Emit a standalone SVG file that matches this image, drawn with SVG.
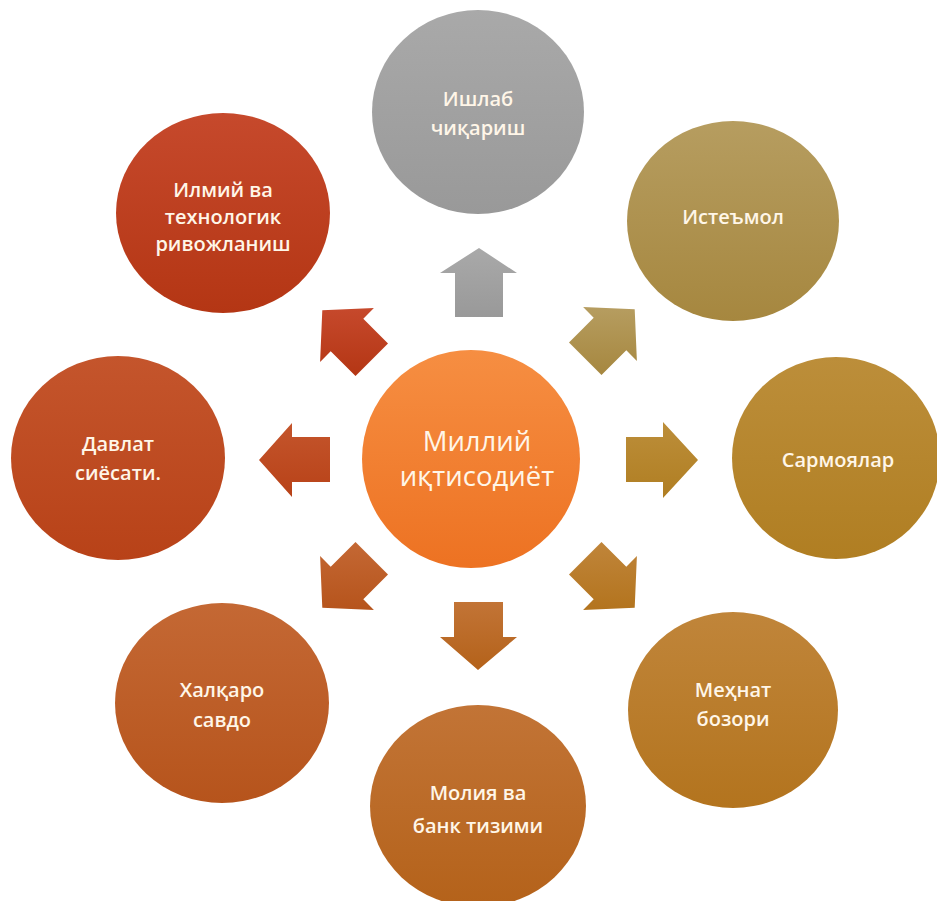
<svg xmlns="http://www.w3.org/2000/svg" width="937" height="901" viewBox="0 0 937 901">
<style>
.lbl{font-family:"Open Sans","Noto Sans","DejaVu Sans",sans-serif;font-size:20px;font-weight:600;fill:#fff6e8;text-anchor:middle}
.big{font-size:27.5px;font-weight:400}
</style>
<defs>
<linearGradient id="gGray" x1="0" y1="0" x2="0" y2="1"><stop offset="0" stop-color="#a9a9a9"/><stop offset="1" stop-color="#999999"/></linearGradient>
<linearGradient id="gOlive" x1="0" y1="0" x2="0" y2="1"><stop offset="0" stop-color="#b69d60"/><stop offset="1" stop-color="#a6873f"/></linearGradient>
<linearGradient id="gGold" x1="0" y1="0" x2="0" y2="1"><stop offset="0" stop-color="#bc8e3a"/><stop offset="1" stop-color="#b07e22"/></linearGradient>
<linearGradient id="gAmber" x1="0" y1="0" x2="0" y2="1"><stop offset="0" stop-color="#c0853a"/><stop offset="1" stop-color="#b3741e"/></linearGradient>
<linearGradient id="gRust" x1="0" y1="0" x2="0" y2="1"><stop offset="0" stop-color="#c27436"/><stop offset="1" stop-color="#b4621a"/></linearGradient>
<linearGradient id="gBrick" x1="0" y1="0" x2="0" y2="1"><stop offset="0" stop-color="#c46834"/><stop offset="1" stop-color="#b6541c"/></linearGradient>
<linearGradient id="gRed" x1="0" y1="0" x2="0" y2="1"><stop offset="0" stop-color="#c4552c"/><stop offset="1" stop-color="#b84218"/></linearGradient>
<linearGradient id="gCrimson" x1="0" y1="0" x2="0" y2="1"><stop offset="0" stop-color="#c6492c"/><stop offset="1" stop-color="#b43614"/></linearGradient>
<linearGradient id="gOrange" x1="0" y1="0" x2="0" y2="1"><stop offset="0" stop-color="#f68e42"/><stop offset="1" stop-color="#ed7222"/></linearGradient>
</defs>

<g id="connectors">
<polygon id="arrow-up" fill="url(#gGray)" points="455,317 455,273 440,273 479,248 517,273 503,273 503,317"/>
<polygon id="arrow-upright" fill="url(#gOlive)" points="569.0,342.5 593.7,317.7 583.1,307.1 634.7,309.3 636.9,360.9 626.3,350.3 601.5,375.0"/>
<polygon id="arrow-right" fill="url(#gGold)" points="626,437 663,437 663,422 698,460 663,498 663,482 626,482"/>
<polygon id="arrow-downright" fill="url(#gAmber)" points="601.5,542.0 626.3,566.7 636.9,556.1 634.7,607.8 583.1,609.9 593.7,599.3 569.0,574.5"/>
<polygon id="arrow-down" fill="url(#gRust)" points="454,602 503,602 503,637 517,637 478,670 440,637 454,637"/>
<polygon id="arrow-downleft" fill="url(#gBrick)" points="388.0,574.5 363.3,599.3 373.9,609.9 322.3,607.8 320.1,556.1 330.7,566.7 355.5,542.0"/>
<polygon id="arrow-left" fill="url(#gRed)" points="330,437 292,437 292,423 259,460 292,497 292,482 330,482"/>
<polygon id="arrow-upleft" fill="url(#gCrimson)" points="355.5,376.0 330.7,351.3 320.1,361.9 322.3,310.3 373.9,308.1 363.3,318.7 388.0,343.5"/>
</g>

<g id="node-center">
<ellipse cx="471" cy="459" rx="109" ry="109" fill="url(#gOrange)"/>
<text class="lbl big" x="477" y="451">Миллий</text>
<text class="lbl big" x="477" y="486">иқтисодиёт</text>
</g>

<g id="node-top">
<ellipse cx="478" cy="112" rx="106" ry="102" fill="url(#gGray)"/>
<text class="lbl" x="478" y="106">Ишлаб</text>
<text class="lbl" x="478" y="135">чиқариш</text>
</g>

<g id="node-topright">
<ellipse cx="733" cy="221" rx="106" ry="100" fill="url(#gOlive)"/>
<text class="lbl" x="733" y="224">Истеъмол</text>
</g>

<g id="node-right">
<ellipse cx="836" cy="458" rx="104" ry="101" fill="url(#gGold)"/>
<text class="lbl" x="838" y="467">Сармоялар</text>
</g>

<g id="node-bottomright">
<ellipse cx="733" cy="710" rx="105" ry="98" fill="url(#gAmber)"/>
<text class="lbl" x="733" y="697">Меҳнат</text>
<text class="lbl" x="733" y="726">бозори</text>
</g>

<g id="node-bottom">
<ellipse cx="478" cy="806" rx="108" ry="101" fill="url(#gRust)"/>
<text class="lbl" x="478" y="800">Молия ва</text>
<text class="lbl" x="478" y="833">банк тизими</text>
</g>

<g id="node-bottomleft">
<ellipse cx="222" cy="703" rx="107" ry="100" fill="url(#gBrick)"/>
<text class="lbl" x="222" y="697">Халқаро</text>
<text class="lbl" x="222" y="727">савдо</text>
</g>

<g id="node-left">
<ellipse cx="118" cy="458" rx="107" ry="102" fill="url(#gRed)"/>
<text class="lbl" x="118" y="451">Давлат</text>
<text class="lbl" x="118" y="480">сиёсати.</text>
</g>

<g id="node-topleft">
<ellipse cx="223" cy="213" rx="107" ry="100" fill="url(#gCrimson)"/>
<text class="lbl" x="223" y="197">Илмий ва</text>
<text class="lbl" x="223" y="224">технологик</text>
<text class="lbl" x="223" y="251">ривожланиш</text>
</g>
</svg>
